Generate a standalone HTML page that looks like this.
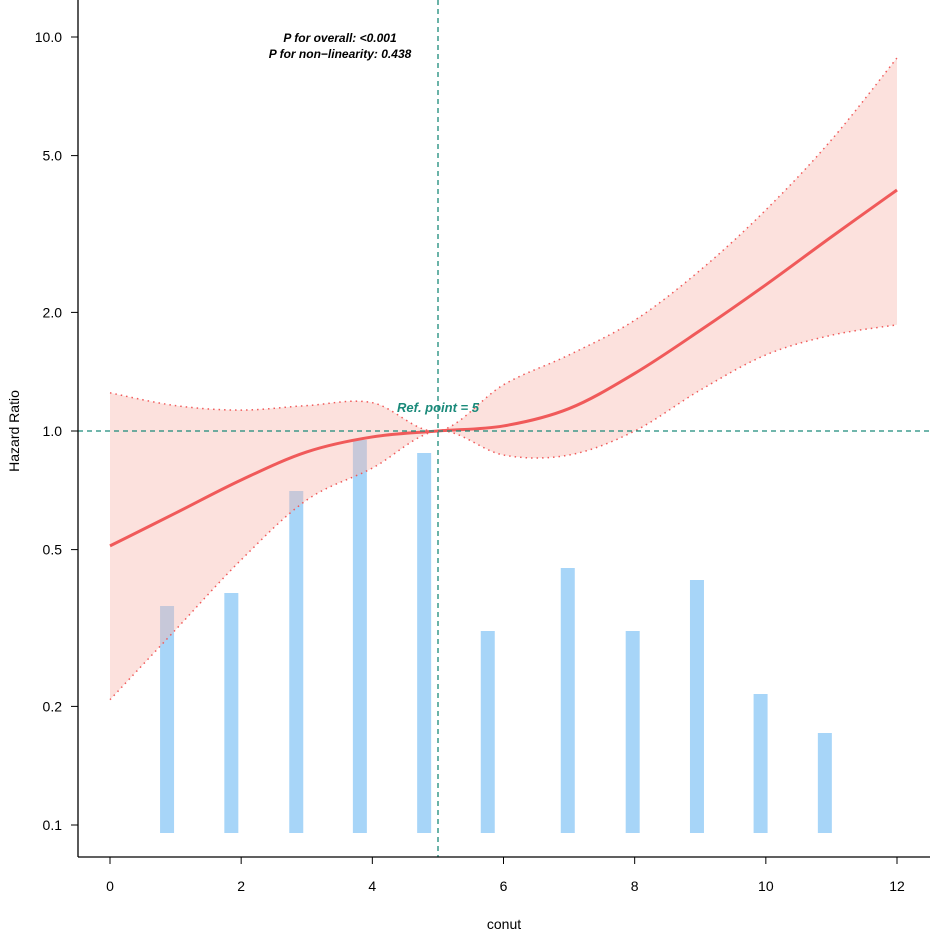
<!DOCTYPE html>
<html><head><meta charset="utf-8"><style>
body{margin:0;background:#fff}
svg text{font-family:"Liberation Sans",Arial,sans-serif}
</style></head><body>
<svg id="chart" width="935" height="935">
<g id="bars"></g>
<path id="band" fill="#f8b4ab" fill-opacity="0.4" stroke="none"/>
<path id="upper" fill="none" stroke="#f05a5a" stroke-width="1.5" stroke-dasharray="1.5,4"/>
<path id="lower" fill="none" stroke="#f05a5a" stroke-width="1.5" stroke-dasharray="1.5,4"/>
<path id="curve" fill="none" stroke="#f05a5a" stroke-width="3"/>
<line x1="78" x2="930" y1="431" y2="431" stroke="#1a8a7a" stroke-width="1.3" stroke-dasharray="5,4"/>
<line x1="438" x2="438" y1="0" y2="857" stroke="#1a8a7a" stroke-width="1.3" stroke-dasharray="5,4"/>
<g id="axes" stroke="#000" stroke-width="1.3">
<line x1="78" x2="78" y1="0" y2="857"/>
<line x1="78" x2="930" y1="857" y2="857"/>
</g>
<g id="ticks"></g>
<text x="340" y="42" text-anchor="middle" font-size="12" font-weight="bold" font-style="italic">P for overall: &lt;0.001</text>
<text x="340" y="58" text-anchor="middle" font-size="12" font-weight="bold" font-style="italic">P for non−linearity: 0.438</text>
<text x="438" y="412" text-anchor="middle" font-size="13" font-weight="bold" font-style="italic" fill="#1a8a7a">Ref. point = 5</text>
<text transform="translate(19,431) rotate(-90)" text-anchor="middle" font-size="14">Hazard Ratio</text>
<text x="504" y="929" text-anchor="middle" font-size="14">conut</text>
</svg>
<script>
const xs=[0,1,2,3,4,5,6,7,8,9,10,11,12];
const hr=[0.511,0.619,0.751,0.885,0.966,1,1.03,1.14,1.40,1.80,2.35,3.11,4.09];
const upperCI=[1.25,1.16,1.13,1.16,1.18,1,1.31,1.56,1.91,2.56,3.64,5.48,8.85];
const lowerCI=[0.208,0.313,0.471,0.668,0.805,1,0.869,0.869,1.0,1.27,1.56,1.75,1.86];
const barX=[0.87,1.85,2.84,3.81,4.79,5.76,6.98,7.97,8.95,9.92,10.9];
const barCounts=[227,240,342,393,380,202,265,202,253,139,100];
const xTicks=[0,2,4,6,8,10,12];
const yTicks=[0.1,0.2,0.5,1.0,2.0,5.0,10.0];
const X=v=>110+v*(897-110)/12;
const Y=v=>431-Math.log10(v)*394;
const H=c=>c;
const ns="http://www.w3.org/2000/svg";
function seg(p){let d="";for(let i=0;i<p.length-1;i++){const a=p[i-1]||p[i],b=p[i],c=p[i+1],e=p[i+2]||c;
d+=" C"+(b[0]+(c[0]-a[0])/6)+","+(b[1]+(c[1]-a[1])/6)+" "+(c[0]-(e[0]-b[0])/6)+","+(c[1]-(e[1]-b[1])/6)+" "+c;}return d;}
function path(vals){const p=xs.map((x,i)=>[X(x),Y(vals[i])]);return "M"+p[0]+seg(p);}
const bars=document.getElementById('bars');
barX.forEach((b,i)=>{const r=document.createElementNS(ns,'rect');


r.setAttribute('x',X(b)-7);r.setAttribute('width',14);r.setAttribute('y',833-H(barCounts[i]));r.setAttribute('height',H(barCounts[i]));r.setAttribute('fill','#a7d5f8');bars.appendChild(r);});
const up=path(upperCI);
document.getElementById('upper').setAttribute('d',up);
document.getElementById('lower').setAttribute('d',path(lowerCI));
document.getElementById('curve').setAttribute('d',path(hr));
const lp=xs.map((x,i)=>[X(x),Y(lowerCI[i])]).reverse();
document.getElementById('band').setAttribute('d',up+" L"+lp[0]+seg(lp)+" Z");
const t=document.getElementById('ticks');
xTicks.forEach(v=>{const l=document.createElementNS(ns,'line');


l.setAttribute('x1',X(v));l.setAttribute('x2',X(v));l.setAttribute('y1',857);l.setAttribute('y2',864);l.setAttribute('stroke','#000');t.appendChild(l);
const s=document.createElementNS(ns,'text');


s.setAttribute('x',X(v));s.setAttribute('y',891);s.setAttribute('text-anchor','middle');s.setAttribute('font-size','14');s.textContent=v;t.appendChild(s);});
yTicks.forEach(v=>{const l=document.createElementNS(ns,'line');


l.setAttribute('x1',71);l.setAttribute('x2',78);l.setAttribute('y1',Y(v));l.setAttribute('y2',Y(v));l.setAttribute('stroke','#000');t.appendChild(l);
const s=document.createElementNS(ns,'text');


s.setAttribute('x',62);s.setAttribute('y',Y(v)+5);s.setAttribute('text-anchor','end');s.setAttribute('font-size','14');s.textContent=v.toFixed(1);t.appendChild(s);});
</script>
</body></html>
